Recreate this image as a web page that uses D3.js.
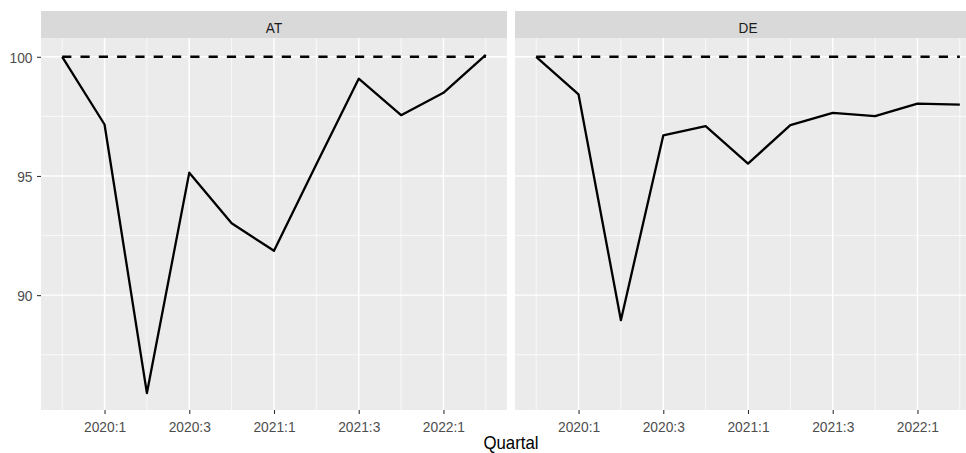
<!DOCTYPE html>
<html>
<head>
<meta charset="utf-8">
<script src="https://cdn.jsdelivr.net/npm/d3@7"></script>
<style>
  html, body { margin: 0; padding: 0; background: #ffffff; }
  svg { display: block; }
</style>
</head>
<body>
<div id="chart"></div>
<script>
// Quarterly index (2019:4 = 100) for two countries, one facet each
const quarters = ["2019:4", "2020:1", "2020:2", "2020:3", "2020:4", "2021:1",
                  "2021:2", "2021:3", "2021:4", "2022:1", "2022:2"];
const facets = ["AT", "DE"];
const atValues = [100.0, 97.16, 85.89, 95.14, 93.02, 91.86, 95.49, 99.08, 97.55, 98.49, 100.08];
const deValues = [100.0, 98.42, 88.95, 96.70, 97.09, 95.52, 97.13, 97.65, 97.51, 98.04, 97.99];
const baseValues = [100, 100, 100, 100, 100, 100, 100, 100, 100, 100, 100];
const xTickLabels = ["2020:1", "2020:3", "2021:1", "2021:3", "2022:1"];
const yTicks = [90, 95, 100];
const xTitle = "Quartal";

const seriesByFacet = { AT: atValues, DE: deValues };

// "YYYY:Q" -> fractional year
const qNum = s => { const [y, q] = s.split(":").map(Number); return y + (q - 1) / 4; };

const W = 966, H = 453;
const panelLefts = [41, 515];
const panelW = 466;
const panelTop = 38, panelH = 372;
const stripTop = 11, stripH = 27;
const sy = 1.12;              // vertical text stretch
const font = "'Liberation Sans', Arial, sans-serif";
const tickFont = 13.8;

// Shared scales, with ggplot-style 5% expansion
const xs = quarters.map(qNum);
const xMin = d3.min(xs), xMax = d3.max(xs), xPad = (xMax - xMin) * 0.05;
const x = d3.scaleLinear().domain([xMin - xPad, xMax + xPad]).range([0, panelW]);

const allY = atValues.concat(deValues, baseValues);
const yMin = d3.min(allY), yMax = d3.max(allY), yPad = (yMax - yMin) * 0.05;
const y = d3.scaleLinear().domain([yMin - yPad, yMax + yPad]).range([panelH, 0]);

const xMajor = xTickLabels.map(qNum);
const xMinor = [];
for (let i = 0; i <= xMajor.length; i++) {
  const v = i === 0 ? xMajor[0] - 0.25 : xMajor[i - 1] + 0.25;
  if (v >= x.domain()[0] && v <= x.domain()[1]) xMinor.push(v);
}
const yMinor = [];
for (let i = 0; i <= yTicks.length; i++) {
  const v = i === 0 ? yTicks[0] - 2.5 : yTicks[i - 1] + 2.5;
  if (v >= y.domain()[0] && v <= y.domain()[1]) yMinor.push(v);
}

const svg = d3.select("#chart").append("svg")
  .attr("width", W).attr("height", H)
  .style("background", "#ffffff");

const line = d3.line().x(d => x(d.x)).y(d => y(d.y));

facets.forEach((name, fi) => {
  const g = svg.append("g").attr("transform", `translate(${panelLefts[fi]},${panelTop})`);

  // strip
  const strip = svg.append("g").attr("transform", `translate(${panelLefts[fi]},${stripTop})`);
  strip.append("rect").attr("width", panelW).attr("height", stripH).attr("fill", "#D9D9D9");
  strip.append("text")
    .attr("transform", `translate(${x(xMin + (xMax - xMin) / 2)},${22.2}) scale(1,${sy})`)
    .attr("text-anchor", "middle")
    .attr("font-family", font).attr("font-size", 13.6)
    .attr("fill", "#1A1A1A")
    .text(name);

  // panel background
  g.append("rect").attr("width", panelW).attr("height", panelH).attr("fill", "#EBEBEB");

  // grid
  g.selectAll(".ymin").data(yMinor).enter().append("line")
    .attr("x1", 0).attr("x2", panelW).attr("y1", d => y(d)).attr("y2", d => y(d))
    .attr("stroke", "#ffffff").attr("stroke-width", 0.7);
  g.selectAll(".xmin").data(xMinor).enter().append("line")
    .attr("y1", 0).attr("y2", panelH).attr("x1", d => x(d)).attr("x2", d => x(d))
    .attr("stroke", "#ffffff").attr("stroke-width", 0.7);
  g.selectAll(".ymaj").data(yTicks).enter().append("line")
    .attr("x1", 0).attr("x2", panelW).attr("y1", d => y(d)).attr("y2", d => y(d))
    .attr("stroke", "#ffffff").attr("stroke-width", 1.4);
  g.selectAll(".xmaj").data(xMajor).enter().append("line")
    .attr("y1", 0).attr("y2", panelH).attr("x1", d => x(d)).attr("x2", d => x(d))
    .attr("stroke", "#ffffff").attr("stroke-width", 1.4);

  // reference line at 100
  const base = quarters.map((q, i) => ({ x: qNum(q), y: baseValues[i] }));
  g.append("path").datum(base).attr("d", line)
    .attr("fill", "none").attr("stroke", "#000000").attr("stroke-width", 2.6)
    .attr("stroke-dasharray", "9.2,9.1").attr("stroke-linecap", "butt");

  // index series
  const vals = seriesByFacet[name];
  const pts = quarters.map((q, i) => ({ x: qNum(q), y: vals[i] }));
  g.append("path").datum(pts).attr("d", line)
    .attr("fill", "none").attr("stroke", "#000000").attr("stroke-width", 2.3)
    .attr("stroke-linejoin", "round").attr("stroke-linecap", "butt");

  // x axis
  const xa = svg.append("g").attr("transform", `translate(${panelLefts[fi]},${panelTop + panelH})`)
    .call(d3.axisBottom(x).tickValues(xMajor).tickSize(4)
      .tickFormat((d, i) => xTickLabels[i]));
  xa.select(".domain").remove();
  xa.selectAll(".tick line").attr("stroke", "#333333").attr("stroke-width", 1.1);
  xa.selectAll(".tick text")
    .attr("y", null).attr("dy", null)
    .attr("transform", `translate(0,21.5) scale(1,${sy})`)
    .attr("font-family", font).attr("font-size", tickFont).attr("fill", "#4D4D4D");

  // y axis on the first facet only
  if (fi === 0) {
    const ya = svg.append("g").attr("transform", `translate(${panelLefts[fi]},${panelTop})`)
      .call(d3.axisLeft(y).tickValues(yTicks).tickSize(4).tickPadding(4.5));
    ya.select(".domain").remove();
    ya.selectAll(".tick line").attr("stroke", "#333333").attr("stroke-width", 1.1);
    ya.selectAll(".tick text")
      .attr("x", null).attr("dy", "0.36em")
      .attr("transform", `translate(-8.5,0) scale(1,${sy})`)
      .attr("font-family", font).attr("font-size", tickFont).attr("fill", "#4D4D4D");
  }
});

// shared x-axis title, centred under both panels
svg.append("text")
  .attr("transform", `translate(${(panelLefts[0] + panelLefts[1] + panelW) / 2},449) scale(1,${sy})`)
  .attr("text-anchor", "middle")
  .attr("font-family", font).attr("font-size", 16.8).attr("fill", "#000000")
  .text(xTitle);
</script>
</body>
</html>
